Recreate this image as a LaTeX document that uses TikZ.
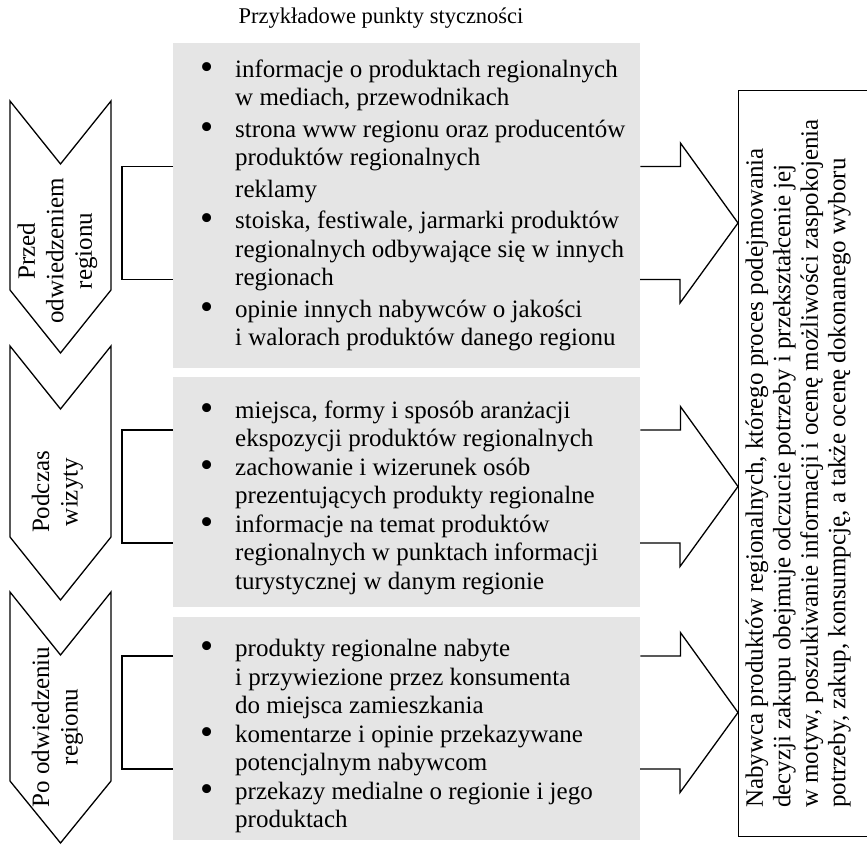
\documentclass[tikz,border=0pt]{standalone}
\usepackage{fontspec}
\setmainfont{Liberation Serif}
\usepackage{graphicx}
\usetikzlibrary{positioning}
\tikzstyle{etap} = [draw=black, line width=1.3pt, line join=miter]
\tikzstyle{etykieta} = [rotate=90, align=center, inner sep=0pt, font=\fontsize{25}{28.5}\selectfont]
\tikzstyle{punkty} = [rectangle, fill=gray!20, minimum width=467pt, anchor=north west, inner sep=0pt]
\tikzstyle{lista} = [inner sep=0pt, font=\fontsize{25}{28.5}\selectfont]
\tikzstyle{linia} = [line width=1.3pt, line join=miter]
\tikzstyle{nabywca} = [rectangle, draw=black, line width=1.3pt, minimum width=150pt, minimum height=746pt, anchor=north west, inner sep=0pt]
\newcommand{\pkt}{\raisebox{-2pt}{\scalebox{1.5}{\textbullet}}}

\begin{document}
\begin{tikzpicture}[x=1pt, y=-1pt]
\useasboundingbox (0,0) rectangle (867,845);
\node[anchor=base, font=\fontsize{22.5}{27}\selectfont] (tytul) at (381,24) {Przykładowe punkty styczności};
% szare pola z punktami stycznosci
\node[punkty, minimum height=325pt] (p1) at (173,43) {};
\node[punkty, minimum height=230pt] (p2) at (173,377) {};
\node[punkty, minimum height=223pt] (p3) at (173,617) {};
\node[lista, right=27pt of p1.west] (l1) {\begin{tabular}{@{}p{35pt}@{}l@{}}
\pkt & informacje o produktach regionalnych\\
 & w mediach, przewodnikach\\[3pt]
\pkt & strona www regionu oraz producentów\\
 & produktów regionalnych\\[3pt]
 & reklamy\\[3pt]
\pkt & stoiska, festiwale, jarmarki produktów\\
 & regionalnych odbywające się w innych\\
 & regionach\\[3pt]
\pkt & opinie innych nabywców o jakości\\
 & i walorach produktów danego regionu
\end{tabular}};
\node[lista, right=27pt of p2.west, yshift=-6pt] (l2) {\begin{tabular}{@{}p{35pt}@{}l@{}}
\pkt & miejsca, formy i sposób aranżacji\\
 & ekspozycji produktów regionalnych\\
\pkt & zachowanie i wizerunek osób\\
 & prezentujących produkty regionalne\\
\pkt & informacje na temat produktów\\
 & regionalnych w punktach informacji\\
 & turystycznej w danym regionie
\end{tabular}};
\node[lista, right=27pt of p3.west, yshift=-8pt] (l3) {\begin{tabular}{@{}p{35pt}@{}l@{}}
\pkt & produkty regionalne nabyte\\
 & i przywiezione przez konsumenta\\
 & do miejsca zamieszkania\\
\pkt & komentarze i opinie przekazywane\\
 & potencjalnym nabywcom\\
\pkt & przekazy medialne o regionie i jego\\
 & produktach
\end{tabular}};
% etapy
\draw[etap] (10,101) -- (60.5,164) -- (111,101) -- (111,290) -- (60.5,353) -- (10,290) -- cycle;
\draw[etap] (10,346) -- (60.5,409) -- (111,346) -- (111,537) -- (60.5,600) -- (10,537) -- cycle;
\draw[etap] (10,592) -- (60.5,655) -- (111,592) -- (111,781) -- (60.5,843) -- (10,781) -- cycle;
\node[etykieta] (e1) at (57.5,251) {Przed\\odwiedzeniem\\regionu};
\node[etykieta] (e2) at (57.5,492) {Podczas\\wizyty};
\node[etykieta] (e3) at (57.5,727) {Po odwiedzeniu\\regionu};
% nabywca
\node[nabywca] (nab) at (738,90) {};
\node[rotate=90, anchor=west, align=left, inner sep=0pt, font=\fontsize{25}{27.5}\selectfont] (opis) at (798,808) {Nabywca produktów regionalnych, którego proces podejmowania\\decyzji zakupu obejmuje odczucie potrzeby i przekształcenie jej\\w motyw, poszukiwanie informacji i ocenę możliwości zaspokojenia\\potrzeby, zakup, konsumpcję, a także ocenę dokonanego wyboru};
% polaczenia
\coordinate (c1) at (0,223);
\coordinate (c2) at (0,486.5);
\coordinate (c3) at (0,712.5);
\draw[linia] (c1 -| p1.west) ++(0,-56.5) -- ++(-51,0) -- ++(0,113) -- ++(51,0);
\draw[linia] (c2 -| p2.west) ++(0,-56.5) -- ++(-51,0) -- ++(0,113) -- ++(51,0);
\draw[linia] (c3 -| p3.west) ++(0,-56.5) -- ++(-51,0) -- ++(0,113) -- ++(51,0);
\draw[linia] (c1 -| p1.east) ++(0,-56.5) -- ++(40,0) -- ++(0,-23.5) -- (c1 -| nab.west) -- ++(-58,80) -- ++(0,-23.5) -- ++(-40,0);
\draw[linia] (c2 -| p2.east) ++(0,-56.5) -- ++(40,0) -- ++(0,-23.5) -- (c2 -| nab.west) -- ++(-58,80) -- ++(0,-23.5) -- ++(-40,0);
\draw[linia] (c3 -| p3.east) ++(0,-56.5) -- ++(40,0) -- ++(0,-23.5) -- (c3 -| nab.west) -- ++(-58,80) -- ++(0,-23.5) -- ++(-40,0);
\end{tikzpicture}
\end{document}
